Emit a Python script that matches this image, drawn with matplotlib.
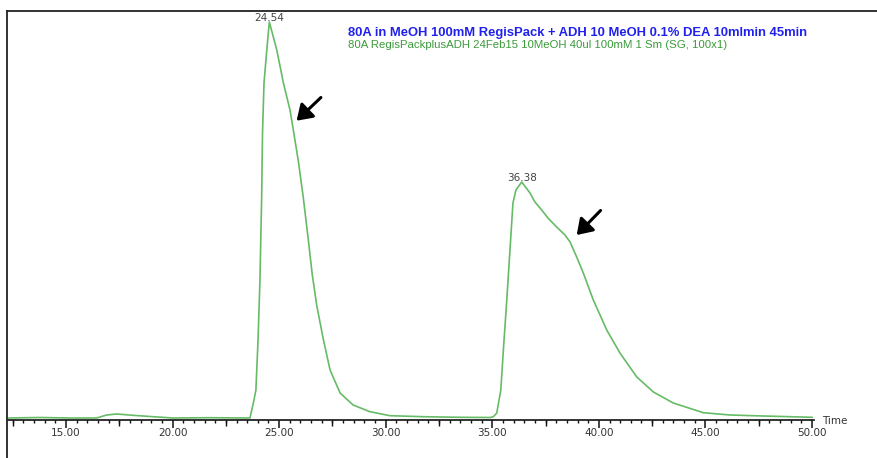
import numpy as np
import matplotlib
matplotlib.use("Agg")
import matplotlib.pyplot as plt
from matplotlib.lines import Line2D

# ---- data ----
time_min = [12.28, 13.78, 15.19, 16.44, 16.91, 17.38, 18.14, 19.08, 20.02, 21.76,
            23.40, 23.63, 23.79, 23.91, 24.01, 24.10, 24.18, 24.22, 24.29, 24.42,
            24.54, 24.89, 25.20, 25.51, 25.65, 25.90, 26.13, 26.37, 26.55,
            26.76, 27.07, 27.39, 27.86, 28.47, 29.26, 30.20, 31.75, 33.49, 34.89,
            35.05, 35.21, 35.40, 35.52, 35.68, 35.83, 35.97, 36.11, 36.38, 36.77,
            37.00, 37.32, 37.61, 38.02, 38.41, 38.65, 38.96, 39.27, 39.74, 40.37,
            40.99, 41.78, 42.56, 43.49, 44.90, 46.15, 47.72, 48.97, 50.00]
signal = [0.0, 0.5, 0.0, 0.0, 3.0, 4.0, 2.7, 1.3, 0.0, 0.3,
          0.0, 0.0, 15.0, 28.0, 78.0, 138.0, 221.0, 285.0, 335.0, 368.0,
          396.0, 368.0, 335.0, 308.0, 290.0, 257.0, 221.0, 178.0, 144.0,
          113.0, 79.0, 48.0, 25.0, 13.0, 6.3, 2.3, 1.3, 0.7, 0.5,
          1.3, 5.0, 28.0, 68.0, 118.0, 168.0, 215.0, 228.0, 236.0, 225.0,
          216.0, 208.0, 200.0, 191.0, 183.0, 176.0, 161.0, 145.0, 118.0, 88.0,
          65.0, 41.0, 26.0, 15.0, 5.3, 3.0, 2.0, 1.3, 0.7]

peak_times = [24.54, 36.38]
arrow_tips = [(25.82, 297.3), (38.96, 183.0)]
arrow_tails = [(26.96, 320.5), (40.08, 207.5)]

major_ticks = [15, 20, 25, 30, 35, 40, 45, 50]
mid_ticks = [12.5, 17.5, 22.5, 27.5, 32.5, 37.5, 42.5, 47.5]
minor_step = 0.5

title_line1 = "80A in MeOH 100mM RegisPack + ADH 10 MeOH 0.1% DEA 10mlmin 45min"
title_line2 = "80A RegisPackplusADH 24Feb15 10MeOH 40ul 100mM 1 Sm (SG, 100x1)"

# ---- figure ----
W, H = 878, 458
fig = plt.figure(figsize=(W / 100, H / 100), dpi=100)
fig.patch.set_facecolor("white")

ax = fig.add_axes([8 / W, 38 / H, 806 / W, 410 / H])
ax.set_xlim(12.279, 50.094)
ax.set_ylim(-2, 408)
ax.plot(time_min, signal, color="#66bb66", lw=1.2, solid_joinstyle="round")

for s in ["top", "right", "left"]:
    ax.spines[s].set_visible(False)
ax.spines["bottom"].set_color("#111111")
ax.spines["bottom"].set_linewidth(1.2)
ax.set_yticks([])

ax.set_xticks(major_ticks)
ax.set_xticklabels([f"{t:.2f}" for t in major_ticks])
ax.set_xticks(np.arange(12.5, 50.01, minor_step), minor=True)
ax.tick_params(axis="x", which="major", direction="out", length=6, width=1.1,
               color="#111111", labelsize=7.5, labelcolor="#333333", pad=0)
ax.tick_params(axis="x", which="minor", direction="out", length=2.5, width=1,
               color="#111111")
for lbl in ax.get_xticklabels():
    lbl.set_family("DejaVu Sans")

sec = ax.secondary_xaxis("bottom")
sec.set_xticks(mid_ticks)
sec.set_xticklabels([])
sec.tick_params(axis="x", direction="out", length=4, width=1, color="#111111")
sec.spines["bottom"].set_visible(False)

# peak labels
for pt in peak_times:
    h = np.interp(pt, time_min, signal)
    ax.annotate(f"{pt:.2f}", (pt, h), xytext=(0, -0.5), textcoords="offset points",
                ha="center", va="bottom", fontsize=7.5, color="#444444",
                family="DejaVu Sans")

# arrows
for tip, tail in zip(arrow_tips, arrow_tails):
    ax.annotate("", xy=tip, xytext=tail,
                arrowprops=dict(arrowstyle="-|>,head_length=0.6,head_width=0.4",
                                color="black", lw=2.2, mutation_scale=15,
                                shrinkA=0, shrinkB=0))

# titles
fig.text(348 / W, 1 - 33 / H, title_line1, color="#2020ee", fontsize=9.4,
         fontweight="bold", family="Liberation Sans", ha="left", va="center")
fig.text(348 / W, 1 - 45 / H, title_line2, color="#3a9a3a", fontsize=8.2,
         family="Liberation Sans", ha="left", va="center")
fig.text(822 / W, 1 - 421 / H, "Time", color="#333333", fontsize=7.5,
         family="DejaVu Sans", ha="left", va="center")

# frame lines (top and left)
fig.add_artist(Line2D([7 / W, 1], [1 - 10.5 / H, 1 - 10.5 / H],
                      transform=fig.transFigure, color="#222222", lw=1.3))
fig.add_artist(Line2D([7.3 / W, 7.3 / W], [0, 1 - 10.5 / H],
                      transform=fig.transFigure, color="#222222", lw=1.3))

fig.savefig("out.png", dpi=100, facecolor="white")
